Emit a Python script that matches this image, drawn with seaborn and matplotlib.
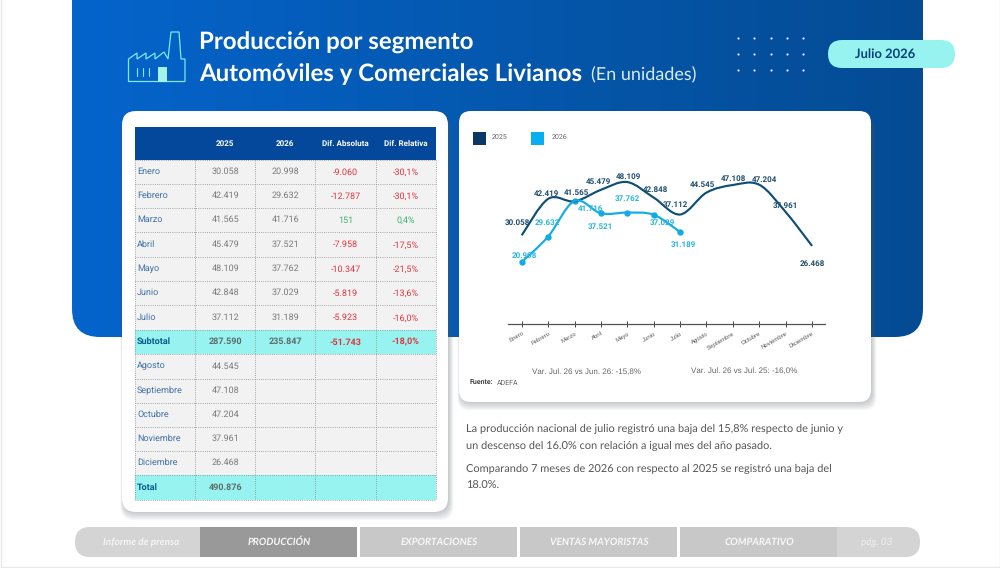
import numpy as np
import pandas as pd
import matplotlib
matplotlib.use("Agg")
import matplotlib.pyplot as plt
from matplotlib.colors import LinearSegmentedColormap
from matplotlib.patches import FancyBboxPatch, PathPatch, Polygon, Rectangle
from matplotlib.path import Path
import seaborn as sns

meses = ["Enero", "Febrero", "Marzo", "Abril", "Mayo", "Junio", "Julio", "Agosto",
         "Septiembre", "Octubre", "Noviembre", "Diciembre"]
v2025 = [30058, 42419, 41565, 45479, 48109, 42848, 37112, 44545, 47108, 47204, 37961, 26468]
v2026 = [20998, 29632, 41716, 37521, 37762, 37029, 31189]
dif_abs = ["-9.060", "-12.787", "151", "-7.958", "-10.347", "-5.819", "-5.923"]
dif_rel = ["-30,1%", "-30,1%", "0,4%", "-17,5%", "-21,5%", "-13,6%", "-16,0%"]
subtotal = ["287.590", "235.847", "-51.743", "-18,0%"]
total_2025 = "490.876"
columnas = ["2025", "2026", "Dif. Absoluta", "Dif. Relativa"]
secciones = ["PRODUCCIÓN", "EXPORTACIONES", "VENTAS MAYORISTAS", "COMPARATIVO"]

# desplazamiento de las etiquetas, en puntos
off_2025 = [(-3, 9), (-1.5, 3.5), (1.5, 6), (-2, 6), (1, 4), (1, 5.3), (-3.2, 7), (-3, 5.5),
            (0.3, 4.5), (3.9, 3.9), (-0.3, 4.5), (0, -12.8)]
off_2026 = [(1.7, 4.5), (-0.3, 9.8), (11.2, -5.3), (-0.4, -10), (-0.2, 9.8), (6.2, -5.7), (2.6, -8.9)]

AZUL_OSC = "#0F4E76"
AZUL_CLA = "#12ABE8"
TURQUESA = "#96F3EF"
ROJO = "#E0353F"
VERDE = "#3CB371"


def fmt(v):
    return f"{v:,}".replace(",", ".")


def caja(ax, x0, y0, x1, y1, r, **kw):
    p = FancyBboxPatch((x0, y0), x1 - x0, y1 - y0,
                       boxstyle=f"round,pad=0,rounding_size={r}", **kw)
    ax.add_patch(p)
    return p


def tarjeta(ax, x0, y0, x1, y1, r):
    # sombra hecha con varias cajas semitransparentes
    for i in range(7):
        caja(ax, x0 + 1 - i * 0.4, y0 + 6, x1 + 1 + i * 0.7, y1 + 1 + i * 1.2, r,
             fc="#5a6068", ec="none", alpha=0.05)
    caja(ax, x0, y0, x1, y1, r, fc="white", ec="none")


def suavizar(ax, linea, color, lw):
    # la curva pasa por los valores (Catmull-Rom), como una línea suavizada de Excel
    xy = linea.get_xydata()
    pts = np.vstack([xy[0], xy, xy[-1]])
    verts, codes = [xy[0]], [Path.MOVETO]
    for i in range(1, len(pts) - 2):
        c1 = pts[i] + (pts[i + 1] - pts[i - 1]) / 6
        c2 = pts[i + 1] - (pts[i + 2] - pts[i]) / 6
        verts += [c1, c2, pts[i + 1]]
        codes += [Path.CURVE4] * 3
    ax.add_patch(PathPatch(Path(verts, codes), fc="none", ec=color, lw=lw, zorder=2))
    linea.set_linestyle("none")


sns.set_theme(style="white")
plt.rcParams["font.family"] = ["Roboto", "DejaVu Sans"]
plt.rcParams["text.hinting"] = "no_hinting"
plt.rcParams["text.hinting_factor"] = 1

fig = plt.figure(figsize=(10, 5.68), dpi=100, facecolor="white")
bg = fig.add_axes([0, 0, 1, 1])
bg.axis("off")

# ── fondo azul con degradado ──────────────────────────────────────────────────
cmap = LinearSegmentedColormap.from_list("azul", ["#0464CC", "#0458AE", "#044B94"])
im = bg.imshow(np.linspace(0, 1, 256)[None, :], cmap=cmap, aspect="auto",
               extent=(72, 923, 337, -40), zorder=0)
panel = caja(bg, 72, -40, 923, 337, 28, fc="none", ec="none")
im.set_clip_path(panel)
bg.set_xlim(0, 1000)
bg.set_ylim(568, 0)
bg.add_patch(Rectangle((0.5, -2), 999, 568.5, fc="none", ec="#E8E8E8", lw=1, zorder=0.5))

# ── icono fábrica ─────────────────────────────────────────────────────────────
ICONO = "#7FE9EE"
fab = [(128.5, 81.5), (128.5, 59), (137, 53), (137, 59), (146, 53), (146, 59), (155, 53), (155, 59),
       (164, 52), (168, 59), (171, 32), (179, 32), (181, 59), (185, 59), (185, 81.5)]
bg.add_patch(Polygon(fab, closed=True, fc="none", ec=ICONO, lw=0.9, zorder=1))
bg.add_patch(Rectangle((158, 67), 9, 14.5, fc="#A4F2EA", ec="none", zorder=1))
for xb in (137, 143, 149):
    bg.plot([xb, xb], [68, 76], color=ICONO, lw=0.8, zorder=1)

# ── títulos ───────────────────────────────────────────────────────────────────
bg.text(199, 43, "Producción por segmento", color="white", fontsize=17.05, fontweight="bold",
        family="Lato", va="center", zorder=2)
bg.text(199, 74, "Automóviles y Comerciales Livianos", color="white", fontsize=17.05, fontweight="bold",
        family="Lato", va="center", zorder=2)
bg.text(591, 75, "(En unidades)", color="#D8EBFB", fontsize=13.2, family="Lato",
        fontweight="normal", va="center", zorder=2)

for fy in (38, 54, 70):
    for fx in (738, 754.3, 770.5, 786.7, 803):
        bg.plot(fx, fy, "o", ms=1.5, color="white", mew=0, zorder=2)

caja(bg, 828, 40, 955, 68, 14, fc=TURQUESA, ec="none", zorder=3)
bg.text(885.5, 54, "Julio 2026", color="#0B3F7A", fontsize=9.6, fontweight="bold", family="Lato",
        ha="center", va="center", zorder=4)

# ── tarjetas ──────────────────────────────────────────────────────────────────
tarjeta(bg, 122, 111, 448, 512, 14)
tarjeta(bg, 459, 111, 871, 402, 12)

# ── tabla ─────────────────────────────────────────────────────────────────────
xs = [135, 195.3, 255.3, 315.3, 375.7, 436]
ys = [127.3, 160, 184, 208, 232.3, 256.7, 281, 305.3, 329.5, 354.3, 378.7, 402.7, 427, 451, 475, 500]

bg.add_patch(Rectangle((xs[0], ys[0]), xs[-1] - xs[0], ys[1] - ys[0], fc="#04489B", ec="none", zorder=2))
for i, col in enumerate(columnas, start=1):
    bg.text((xs[i] + xs[i + 1]) / 2, (ys[0] + ys[1]) / 2 + 0.5, col, color="white", fontsize=6.1,
            fontweight="bold", ha="center", va="center", zorder=4)

filas = []
for i in range(7):
    filas.append((meses[i], [fmt(v2025[i]), fmt(v2026[i]), dif_abs[i], dif_rel[i]], False))
filas.append(("Subtotal", subtotal, True))
for i in range(7, 12):
    filas.append((meses[i], [fmt(v2025[i]), "", "", ""], False))
filas.append(("Total", [total_2025, "", "", ""], True))

for r, (nombre, celdas, resaltada) in enumerate(filas):
    y0, y1 = ys[r + 1], ys[r + 2]
    ym = (y0 + y1) / 2 - 0.4
    bg.add_patch(Rectangle((xs[0], y0), xs[-1] - xs[0], y1 - y0,
                           fc=TURQUESA if resaltada else "#F2F2F2", ec="none", zorder=2))
    bg.text(xs[0] + 2, ym, nombre, fontsize=6.3, va="center", zorder=4,
            color="#0B5A8A" if resaltada else "#3F70A6",
            fontweight="bold" if resaltada else "normal")
    for c, txt in enumerate(celdas):
        color = "#5F6B6E" if resaltada else "#7A7A7A"
        if c >= 2 and txt:
            color = VERDE if txt in ("151", "0,4%") else ROJO
        bg.text((xs[c + 1] + xs[c + 2]) / 2, ym + (0.8 if c >= 2 else 0), txt, color=color,
                fontsize=6.4, ha="center", va="center", zorder=4,
                fontweight="bold" if resaltada else "normal")

for yl in ys[1:]:
    bg.plot([xs[0], xs[-1]], [yl, yl], color="#8C8C8C", lw=0.6, ls=(0, (1, 1.6)), zorder=3)
for xl in xs:
    bg.plot([xl, xl], [ys[1], ys[-1]], color="#8C8C8C", lw=0.6, ls=(0, (1, 1.6)), zorder=3)

# ── leyenda y notas del gráfico ───────────────────────────────────────────────
bg.add_patch(Rectangle((473, 132), 13, 13, fc="#0A3766", ec="none", zorder=2))
bg.add_patch(Rectangle((531, 132), 13, 13, fc="#09AEF0", ec="none", zorder=2))
bg.text(492, 137.5, "2025", fontsize=5, color="#666666", va="center", zorder=3)
bg.text(552, 137.5, "2026", fontsize=5, color="#666666", va="center", zorder=3)
bg.text(586.7, 371.5, "Var. Jul. 26 vs Jun. 26: -15,8%", fontsize=5.7, color="#666666", ha="center",
        va="center", family="Liberation Sans", zorder=3)
bg.text(744, 370.5, "Var. Jul. 26 vs Jul. 25: -16,0%", fontsize=5.7, color="#666666", ha="center",
        va="center", family="Liberation Sans", zorder=3)
bg.text(470, 383, "Fuente:", fontsize=5.3, color="#444444", fontweight="bold", va="center", zorder=3)
bg.text(497, 383, "ADEFA", fontsize=5.2, color="#666666", va="center", zorder=3)

# ── texto ─────────────────────────────────────────────────────────────────────
parrafo = [(429, "La producción nacional de julio registró una baja del 15,8% respecto de junio y"),
           (446, "un descenso del 16.0% con relación a igual mes del año pasado."),
           (469, "Comparando 7 meses de 2026 con respecto al 2025 se registró una baja del"),
           (486, "18.0%.")]
for yt, linea in parrafo:
    bg.text(466, yt, linea, fontsize=7.85, color="#555555", family="Lato", va="center", zorder=3)

# ── barra inferior ────────────────────────────────────────────────────────────
caja(bg, 75, 527, 920, 557, 15, fc="#D4D4D4", ec="none", zorder=1)
bg.text(141, 542, "Informe de prensa", fontsize=7.2, style="italic", fontweight="bold", color="#F4F4F4",
        family="Lato", ha="center", va="center", zorder=3)
bg.text(877, 542, "pág. 03", fontsize=7.2, style="italic", color="#F0F0F0", family="Lato",
        ha="center", va="center", zorder=3)
inicio = [200, 360, 520, 680]
for x0, sec in zip(inicio, secciones):
    activa = sec == "PRODUCCIÓN"
    ancho = 157
    bg.add_patch(Rectangle((x0, 527), ancho, 30, fc="#999999" if activa else "#C8C8C8", ec="none", zorder=2))
    bg.text(x0 + ancho / 2 + 0.5, 542, sec, fontsize=7.2, style="italic", fontweight="bold", color="#F8F8F8",
            family="Lato", ha="center", va="center", zorder=3)
bg.add_patch(Rectangle((357, 527), 3, 30, fc="white", ec="none", zorder=2))
bg.add_patch(Rectangle((517, 527), 3, 30, fc="white", ec="none", zorder=2))
bg.add_patch(Rectangle((677, 527), 3, 30, fc="white", ec="none", zorder=2))

# ── gráfico de líneas ─────────────────────────────────────────────────────────
# eje en pixeles: de x=508 a 825, base en y=324, tope en y=140
ax = fig.add_axes([508 / 1000, (568 - 324) / 568, (825 - 508) / 1000, (324 - 140) / 568], facecolor="none")
df_25 = pd.DataFrame({"mes": meses, "valor": v2025})
df_26 = pd.DataFrame({"mes": meses[:7], "valor": v2026})
sns.lineplot(data=df_25, x="mes", y="valor", color=AZUL_OSC, sort=False, errorbar=None, ax=ax)
sns.lineplot(data=df_26, x="mes", y="valor", color=AZUL_CLA, sort=False, errorbar=None, marker="o",
             markersize=4.6, markeredgewidth=0, ax=ax)
linea_25, linea_26 = ax.get_lines()[:2]
suavizar(ax, linea_25, AZUL_OSC, 1.55)
suavizar(ax, linea_26, AZUL_CLA, 1.55)

for i, v in enumerate(v2025):
    ax.annotate(fmt(v), (i, v), xytext=off_2025[i], textcoords="offset points", ha="center", va="center",
                fontsize=6.1, fontweight="bold", color="#1F4E6E", zorder=5)
for i, v in enumerate(v2026):
    ax.annotate(fmt(v), (i, v), xytext=off_2026[i], textcoords="offset points", ha="center", va="center",
                fontsize=6.1, fontweight="bold", color="#2AB5DC", zorder=5)

ax.set_xlim(-0.52, 11.49)
ax.set_ylim(0, 62370)
ax.set_xlabel("")
ax.set_ylabel("")
ax.set_yticks([])
ax.set_xticks(range(12), meses, rotation=30, ha="right", rotation_mode="anchor",
              family="Liberation Sans", fontsize=4.6, color="#555555")
ax.tick_params(axis="x", direction="inout", length=4.5, width=0.7, color="#444444", pad=2.5, bottom=True)
for lado in ("top", "left", "right"):
    ax.spines[lado].set_visible(False)
ax.spines["bottom"].set_color("#555555")
ax.spines["bottom"].set_linewidth(0.9)

fig.savefig("out.png", dpi=100)
